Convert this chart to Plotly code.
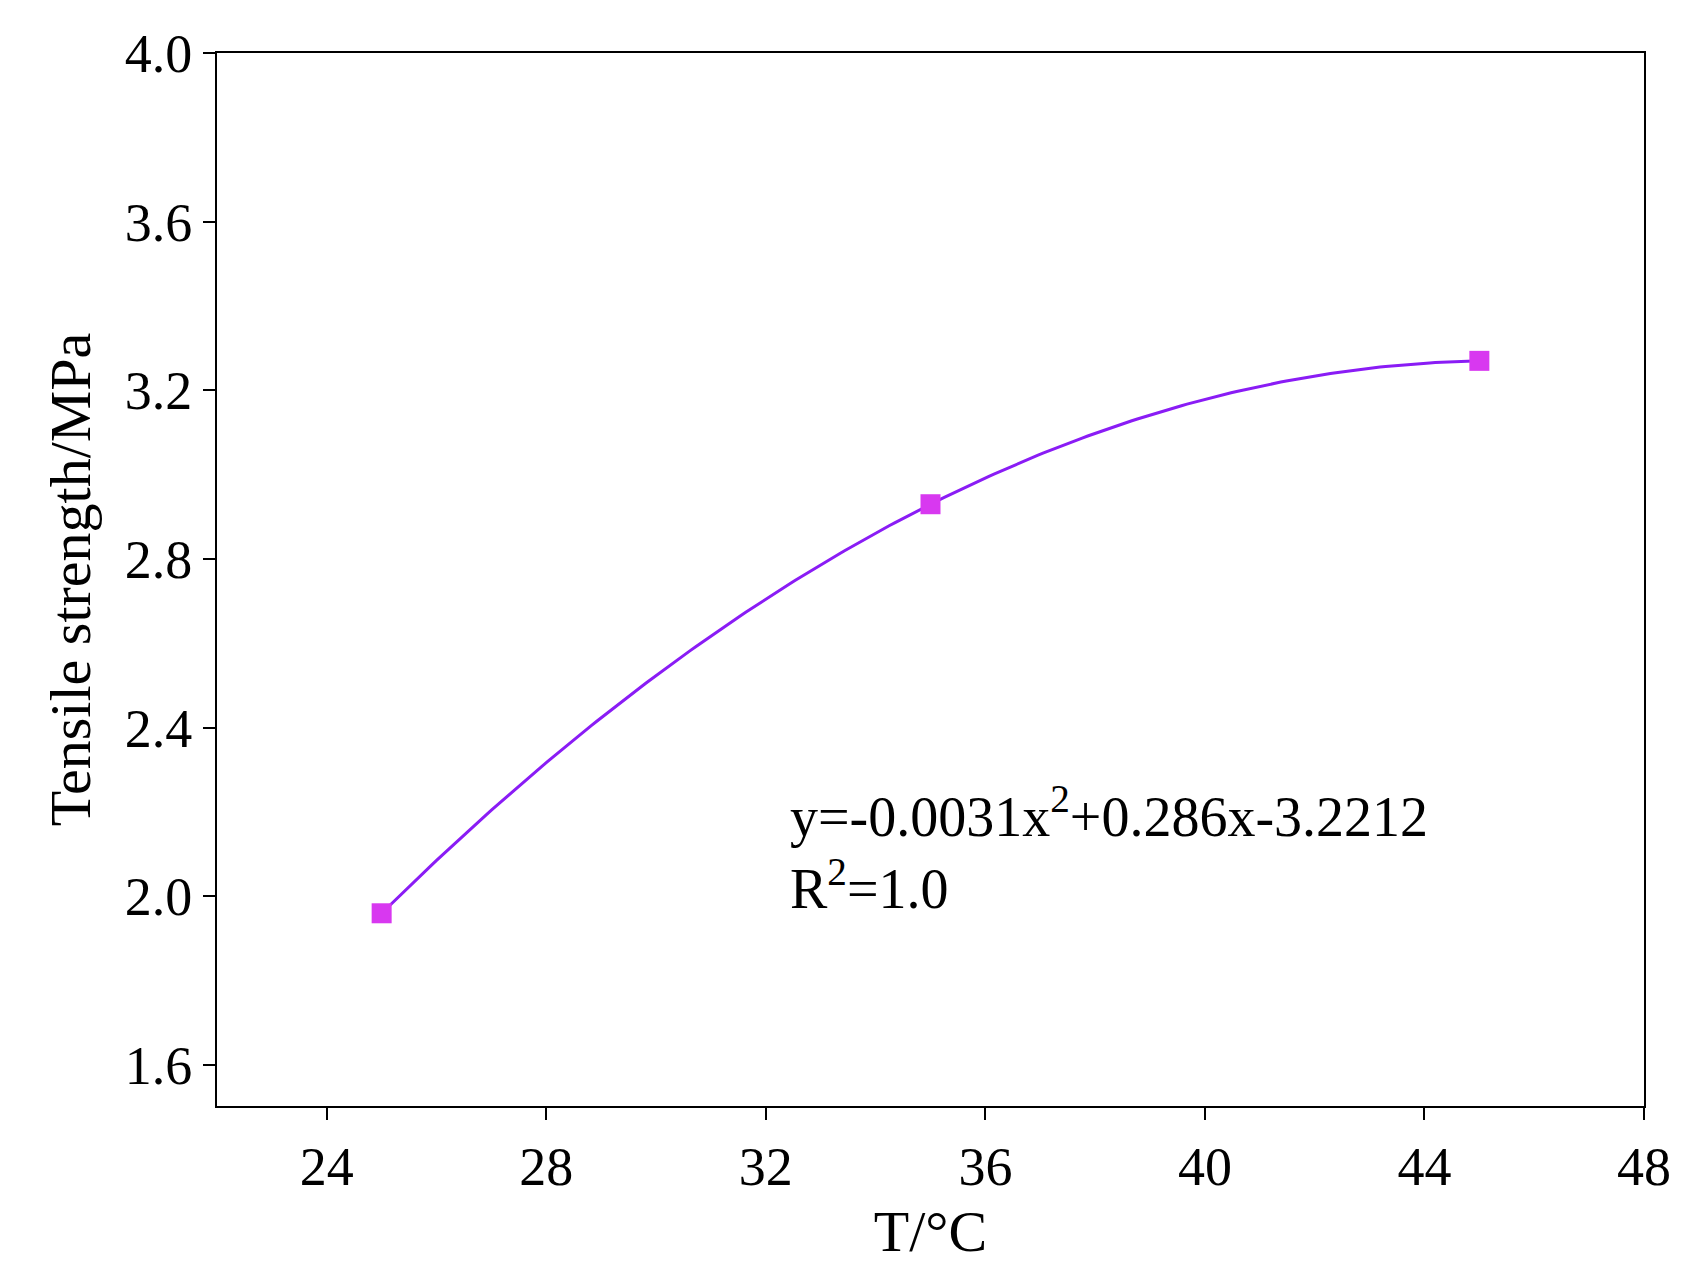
import numpy as np
import plotly.graph_objects as go

temps = [25, 35, 45]
strength = [1.96, 2.93, 3.27]
x_ticks = [24, 28, 32, 36, 40, 44, 48]
y_ticks = [1.6, 2.0, 2.4, 2.8, 3.2, 3.6, 4.0]

coef = np.polyfit(temps, strength, 2)
xs = np.linspace(min(temps), max(temps), 200)
ys = np.polyval(coef, xs)

font = "Liberation Serif"
fig = go.Figure()
fig.add_trace(go.Scatter(x=xs, y=ys, mode="lines", line=dict(color="#8a1cf5", width=3), showlegend=False))
fig.add_trace(go.Scatter(x=temps, y=strength, mode="markers",
                         marker=dict(symbol="square", size=20, color="#d838f0"), showlegend=False))
fig.add_annotation(x=0.4, y=0.245, xref="paper", yref="paper", xanchor="left", yanchor="middle",
                   showarrow=False, align="left",
                   text="y=-0.0031x<sup>2</sup>+0.286x-3.2212<br>R<sup>2</sup>=1.0",
                   font=dict(family=font, size=56, color="black"))
axis = dict(showgrid=False, zeroline=False, showline=True, linecolor="black", linewidth=2,
            mirror=True, ticks="outside", ticklen=12, tickwidth=2, tickcolor="black",
            tickfont=dict(family=font, size=54, color="black"))
fig.update_xaxes(**axis, range=[22, 48], tickvals=x_ticks,
                 title=dict(text="T/°C", font=dict(family=font, size=58, color="black"), standoff=15))
fig.update_yaxes(**axis, range=[1.503, 4.0], tickvals=y_ticks, tickformat=".1f",
                 title=dict(text="Tensile strength/MPa", font=dict(family=font, size=58, color="black"), standoff=15))
fig.update_layout(width=1682, height=1282, plot_bgcolor="white", paper_bgcolor="white",
                  margin=dict(l=209, r=46, t=45, b=184))
fig.write_html("out.html")
